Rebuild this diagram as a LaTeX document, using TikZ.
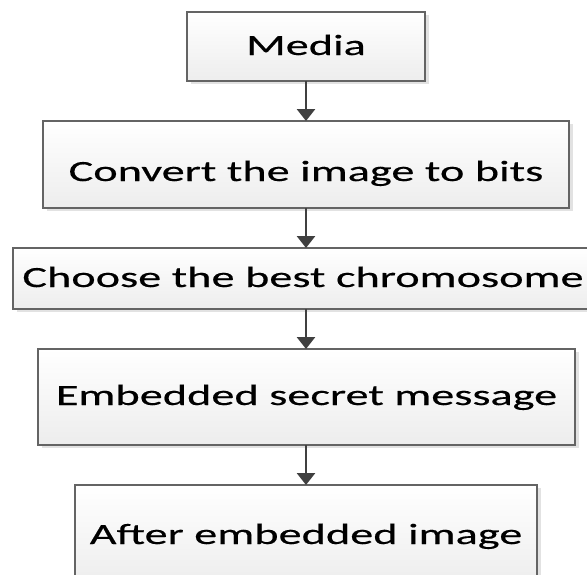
\documentclass[tikz,border=0pt]{standalone}
\usepackage{fontspec}
\setmainfont{Carlito}[FakeStretch=1.58,FakeBold=0.4]
\usetikzlibrary{arrows.meta,shadows}
\definecolor{boxline}{HTML}{646464}
\definecolor{shadowc}{HTML}{E2E2E2}
\definecolor{arrowc}{HTML}{404040}
\definecolor{fillbot}{HTML}{EDEDED}
\tikzset{
  flowbox/.style={draw=boxline, line width=1.3pt, top color=white, bottom color=fillbot,
    inner sep=0pt, outer sep=0pt,
    drop shadow={shadow xshift=3.5pt, shadow yshift=-3pt, fill=shadowc, opacity=1}},
  flowtext/.style={font=\fontsize{29.3}{34}\selectfont, anchor=base, inner sep=0pt},
  flowarrow/.style={draw=arrowc, line width=2.8pt, -{Triangle[width=18pt,length=12pt]}}
}
\begin{document}
\begin{tikzpicture}[x=1pt,y=-1pt]
\useasboundingbox (0,0) rectangle (587,574);
\clip (0,0) rectangle (587,574);
\node[flowbox, minimum width=238pt, minimum height=69pt] (media) at (306,46.5) {};
\node[flowbox, minimum width=526pt, minimum height=87pt] (convert) at (306,164.5) {};
\node[flowbox, minimum width=586pt, minimum height=61pt] (choose) at (306,278.5) {};
\node[flowbox, minimum width=537pt, minimum height=96pt] (embed) at (306.5,397) {};
\node[flowbox, minimum width=462pt, minimum height=100pt] (after) at (306,535) {};
\node[flowtext] (tmedia) at (306,55) {Media};
\node[flowtext] (tconvert) at (306,181) {Convert the image to bits};
\node[flowtext] (tchoose) at (303,287) {Choose the best chromosome};
\node[flowtext] (tembed) at (306.5,405) {Embedded secret message};
\node[flowtext] (tafter) at (306,544) {After embedded image};
\draw[flowarrow] (media.south) -- (convert.north);
\draw[flowarrow] (convert.south) -- (choose.north);
\draw[flowarrow] (choose.south) -- (choose.south |- embed.north);
\draw[flowarrow] (embed.south -| media.south) -- (after.north);
\end{tikzpicture}
\end{document}
